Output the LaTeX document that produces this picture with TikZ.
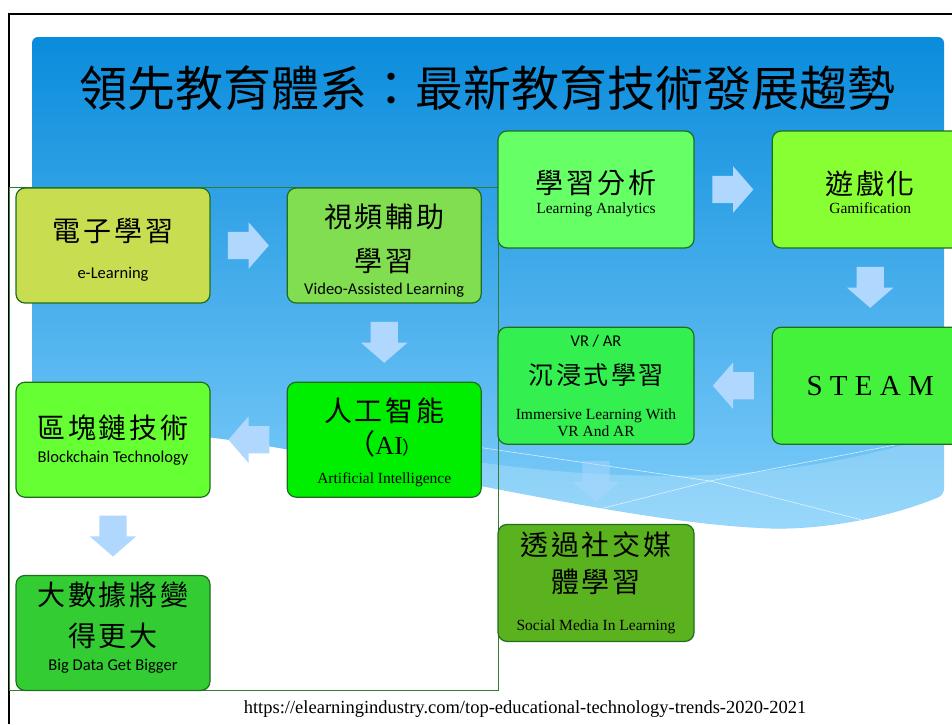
\documentclass[tikz,border=0pt]{standalone}
\usepackage{fontspec}
\setmainfont{Liberation Serif}
\newfontfamily\zh[LetterSpace=10]{Noto Sans CJK TC}
\newfontfamily\zhbig{Noto Sans CJK TC}
\newfontfamily\carl{Carlito}
\usetikzlibrary{shapes.arrows, positioning, calc}
\definecolor{skytop}{RGB}{10,140,220}
\definecolor{skybot}{RGB}{128,206,250}
\definecolor{boxline}{RGB}{30,110,30}
\definecolor{framegreen}{RGB}{46,125,50}
\definecolor{arrowblue}{RGB}{176,216,255}
\definecolor{elearnfill}{RGB}{200,222,80}
\definecolor{videofill}{RGB}{128,222,80}
\definecolor{aifill}{RGB}{0,238,0}
\definecolor{chainfill}{RGB}{102,255,51}
\definecolor{bigdatafill}{RGB}{51,204,51}
\definecolor{analyticsfill}{RGB}{102,255,102}
\definecolor{gamefill}{RGB}{136,255,51}
\definecolor{steamfill}{RGB}{68,242,60}
\definecolor{vrfill}{RGB}{51,240,80}
\definecolor{socialfill}{RGB}{90,178,30}
\newcommand\zhline[1]{{\zh\fontsize{28}{30}\selectfont #1}}
\newcommand\sfline[1]{{\carl\fontsize{16.5}{18}\selectfont #1}}
\newcommand\rmline[1]{{\fontsize{15.5}{17}\selectfont #1}}
% struts that push the text of a box down (top) or up (bottom)
\newcommand\tstrut[1]{\rule{0pt}{#1}}
\newcommand\bstrut[1]{\rule[-#1]{0pt}{0pt}}
\newcommand\skypath{(32,415) -- (32,37) -- (944,37) -- (944,495)
  .. controls (870,525) and (800,530) .. (760,528)
  .. controls (620,520) and (420,470) .. (230,440) -- cycle}

\begin{document}
\begin{tikzpicture}[x=1pt, y=-1pt,
      box/.style={rectangle, draw=boxline, line width=1.2pt, rounded corners=9pt,
                  align=center, minimum width=194pt, minimum height=115pt,
                  inner sep=0pt, font=\fontsize{10}{2}\selectfont},
      wide/.style={box, minimum width=196pt, minimum height=117pt},
      barrow/.style={single arrow, fill=arrowblue, draw=none, anchor=tip,
                     inner xsep=0pt, inner ysep=13.5pt,
                     minimum height=41pt, minimum width=46pt,
                     single arrow head extend=9.5pt, single arrow tip angle=98},
      ]
    \useasboundingbox (0,0) rectangle (952,724);
    \clip (0,0) rectangle (952,724);

    % backdrop of the slide
    \shade[top color=skytop, bottom color=skybot, rounded corners=6pt] \skypath;
    \begin{scope}
      \clip \skypath;
      \fill[white, opacity=.2] (400,450) .. controls (600,485) and (780,490) .. (950,430)
        -- (950,560) -- (400,560) -- cycle;
      \draw[white, opacity=.7, line width=.6pt] (470,446) -- (710,481) -- (870,522);
      \draw[white, opacity=.7, line width=.6pt] (600,509) -- (710,481) -- (900,444);
    \end{scope}
    \draw[line width=2pt] (9,724) -- (9,14) -- (952,14);
    \draw[framegreen, line width=1pt] (9,187) rectangle (498,690);

    \node[font=\zhbig\fontsize{48}{52}\selectfont] (title) at (487,88)
      {領先教育體系：最新教育技術發展趨勢};

    % left group
    \node[box, fill=elearnfill] (elearn) at (113,245.5)
      {\tstrut{31.5pt}\zhline{電子學習}\\[22pt]\sfline{e-Learning}};
    \node[box, fill=videofill, right=76pt of elearn] (video)
      {\tstrut{33.5pt}\zhline{視頻輔助}\\[17pt]\zhline{學習}\\[8pt]\sfline{Video-Assisted Learning}};
    \node[box, fill=aifill, below=78pt of video] (ai)
      {\tstrut{29.5pt}\zhline{人工智能}\\[5pt]{\zh\fontsize{28}{30}\selectfont （}{\fontsize{26}{28}\selectfont AI}{\zh\fontsize{18}{20}\selectfont ）}\\[15pt]\rmline{Artificial Intelligence}};
    \node[box, fill=chainfill, below=78pt of elearn] (chain)
      {\zhline{區塊鏈技術}\\[9pt]\sfline{Blockchain Technology}};
    \node[box, fill=bigdatafill, below=77pt of chain] (bigdata)
      {\zhline{大數據將變}\\[14pt]\zhline{得更大}\\[10pt]\sfline{Big Data Get Bigger}\bstrut{13.5pt}};

    % right group
    \node[wide, fill=analyticsfill] (analytics) at (596,189.5)
      {\tstrut{30.5pt}\zhline{學習分析}\\[6pt]\rmline{Learning Analytics}};
    \node[wide, fill=gamefill, right=77pt of analytics] (game)
      {\tstrut{29.5pt}\zhline{遊戲化}\\[5pt]\rmline{Gamification}};
    \node[wide, fill=steamfill, below=78pt of game] (steam)
      {{\fontsize{29}{30}\selectfont S T E A M}};
    \node[wide, fill=vrfill, below=78pt of analytics] (immersive)
      {\sfline{VR / AR}\\[16pt]{\zh\fontsize{25}{27}\selectfont 沉浸式學習}\\[21pt]\rmline{Immersive Learning With}\\[2pt]\rmline{VR And AR}};
    \node[wide, fill=socialfill, below=79pt of immersive] (social)
      {\zhline{透過社交媒}\\[10pt]\zhline{體學習}\\[24pt]\rmline{Social Media In Learning}};

    % block arrows between the boxes (placed by their tips)
    \node[barrow] (a1) at ($(elearn.east)!.5!(video.west)+(20.5,0)$) {};
    \node[barrow, rotate=270] (a2) at ($(video.south)!.5!(ai.north)+(0,20.5)$) {};
    \node[barrow, rotate=180] (a3) at ($(ai.west)!.5!(chain.east)+(-20.5,0)$) {};
    \node[barrow, rotate=270] (a4) at ($(chain.south)!.5!(bigdata.north)+(0,20.5)$) {};
    \node[barrow] (a5) at ($(analytics.east)!.5!(game.west)+(20.5,0)$) {};
    \node[barrow, rotate=270] (a6) at ($(game.south)!.5!(steam.north)+(0,20.5)$) {};
    \node[barrow, rotate=180] (a7) at ($(steam.west)!.5!(immersive.east)+(-20.5,0)$) {};
    \node[barrow, rotate=270, opacity=.45] (a8) at ($(immersive.south)!.5!(social.north)+(0,18)$) {};

    \node[font=\fontsize{18.5}{20}\selectfont] (src) at (525,709.5)
      {https://elearningindustry.com/top-educational-technology-trends-2020-2021};
  \end{tikzpicture}
\end{document}
